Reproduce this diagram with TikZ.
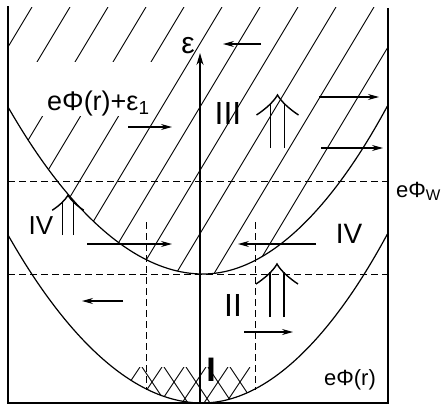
\documentclass[tikz,border=0pt]{standalone}
\usepackage{fontspec}
\setmainfont{Liberation Sans}
\usetikzlibrary{arrows.meta,positioning}

\begin{document}
\begin{tikzpicture}[
    x=1pt, y=-1pt,
    frame/.style={line width=1.3pt},
    curve/.style={line width=1.2pt},
    hatch/.style={line width=0.9pt},
    guide/.style={line width=1pt, dash pattern=on 7pt off 4pt},
    flow/.style={-{Stealth[length=11pt,width=6pt]}, line width=1.2pt},
    lbl/.style={inner sep=0pt, font=\fontsize{26}{30}\selectfont},
    zone/.style={inner sep=0pt, font=\fontsize{32}{36}\selectfont},
    dblup/.pic={
        \draw[line width=1.4pt] (-7,0) -- (-7,-45) (7,0) -- (7,-45);
        \draw[line width=1.4pt] (-21,-33) .. controls (-12,-39) and (-4,-46) .. (0,-53)
                                          .. controls (4,-46) and (12,-39) .. (21,-33);
    },
]
\useasboundingbox (0,0) rectangle (442,407);

% hatched region above e Phi(r) + eps_1
\begin{scope}
    \clip (8,7) -- (8,107) parabola bend (203,274) (388,105) -- (388,7) -- cycle;
    \foreach \t in {-2,...,10}
        \draw[hatch] ({70+38*\t},7) -- ++(-240,400);
\end{scope}
\fill[white] (8,62) rectangle (155,116);

% cross-hatched region I
\begin{scope}
    \clip (130,367) rectangle (250,404);
    \clip (8,200) -- (8,235) parabola bend (202,403) (388,233) -- (388,200) -- cycle;
    \foreach \u in {0,...,7} {
        \draw[hatch] ({98+22*\u},367) -- ++(30,45);
        \draw[hatch] ({140+22*\u},367) -- ++(-30,45);
    }
\end{scope}

% potential curves
\draw[curve] (8,107) parabola bend (203,274) (388,105);
\draw[curve] (8,235) parabola bend (202,403) (388,233);

% levels
\draw[guide] (8,181) -- (388,181);
\draw[guide] (8,274) -- (388,274);
\draw[guide] (146,222) -- (146,390);
\draw[guide] (255,222) -- (255,390);

% frame
\draw[frame] (8,6) -- (8,403) -- (388,403);
\draw[line width=2.5pt] (388,8) -- (388,404);

% energy axis
\coordinate (base) at (200,403);
\coordinate (tip) at (200,53);
\draw[line width=1.5pt, -{Stealth[length=12pt,width=7pt]}] (base) -- (tip);
\node[lbl, font=\fontsize{30}{32}\selectfont, anchor=base east] (eps) at (195,53) {ε};

% drift arrows
\draw[flow] (261,44) -- (223,44);
\draw[flow] (128,127) -- (172,127);
\draw[flow] (319,97) -- (379,97);
\draw[flow] (321,148) -- (383,148);
\draw[flow] (87,244) -- (172,244);
\draw[flow] (123,301) -- (82,301);
\draw[flow] (316,244) -- (238,244);
\draw[flow] (244,332) -- (293,332);

% double arrows
\pic at (277.5,148) {dblup};
\pic[scale=0.75] at (68,235) {dblup};
\pic at (277,317) {dblup};

% labels
\node[lbl, font=\fontsize{27}{30}\selectfont, anchor=base west] (sum) at (47,110) {eΦ(r)+ε\textsubscript{1}};
\node[zone] (r3) at (228,113) {III};
\node[lbl] (r4a) at (41,226) {IV};
\node[lbl, font=\fontsize{28}{30}\selectfont] (r4b) at (349,234) {IV};
\node[zone] (r2) at (233,305) {II};
\node[zone, font=\bfseries\fontsize{34}{36}\selectfont] (r1) at (211,370) {I};
\node[lbl, font=\fontsize{22}{24}\selectfont, anchor=base] (pot) at (350,385) {eΦ(r)};
\node[lbl, font=\fontsize{22}{24}\selectfont, anchor=base west] (work) at (396,197) {eΦ\textsubscript{W}};
\end{tikzpicture}
\end{document}
